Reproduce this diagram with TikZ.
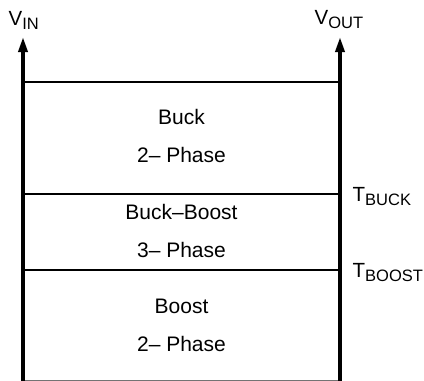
\documentclass[tikz,border=0pt]{standalone}
\usepackage{fontspec}
\setmainfont{Liberation Sans}
\usetikzlibrary{arrows.meta}
\tikzset{
  rail/.style={line width=3.5pt, -{Triangle[length=15pt,width=9pt]}},
  level/.style={line width=2.5pt},
  lbl/.style={inner sep=0pt, anchor=base, font=\fontsize{21}{24}\selectfont},
  sig/.style={inner sep=0pt, anchor=base west, font=\fontsize{20.5}{24}\selectfont},
}
\newcommand{\sbs}[1]{\raisebox{-4.5pt}{\fontsize{16.5}{18}\selectfont #1}}
\begin{document}
\begin{tikzpicture}[x=1pt,y=-1pt]
\useasboundingbox (0,0) rectangle (424,381);
% rails
\coordinate (inB) at (23,384);
\coordinate (inT) at (23,37);
\coordinate (outB) at (340,384);
\coordinate (outT) at (340,37);
\coordinate (L1) at (23,82);  \coordinate (R1) at (340,82);
\coordinate (L2) at (23,194); \coordinate (R2) at (340,194);
\coordinate (L3) at (23,270); \coordinate (R3) at (340,270);
\coordinate (L4) at (23,381.5); \coordinate (R4) at (340,381.5);
\draw[level] (L1) -- (R1);
\draw[level] (L2) -- (R2);
\draw[level] (L3) -- (R3);
\draw[level, black!55] (L4) -- (R4);
\draw[rail] (inB) -- (inT);
\draw[rail] (outB) -- (outT);
% region texts
\node[lbl] (buck) at (181.5,124) {Buck};
\node[lbl] (buckph) at (181.5,162) {2-- Phase};
\node[lbl] (bb) at (181.5,219) {Buck--Boost};
\node[lbl] (bbph) at (181.5,257) {3-- Phase};
\node[lbl] (boost) at (181.5,313) {Boost};
\node[lbl] (boostph) at (181.5,351) {2-- Phase};
% signal labels
\node[sig] (vin) at (8.5,25) {V\sbs{IN}};
\node[sig] (vout) at (314.5,24) {V\sbs{OUT}};
\node[sig] (tbuck) at (352.5,201) {T\sbs{BUCK}};
\node[sig] (tboost) at (352.5,277) {T\sbs{BOOST}};
\end{tikzpicture}
\end{document}
